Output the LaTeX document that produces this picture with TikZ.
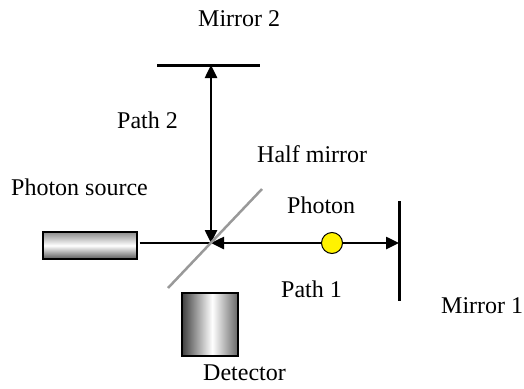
\documentclass[tikz,border=0pt]{standalone}
\usepackage{fontspec}
\setmainfont{Liberation Serif}
\usetikzlibrary{arrows.meta}
\pgfdeclareverticalshading{srcshade}{100bp}{color(0bp)=(black!65); color(25bp)=(black!65); color(50bp)=(white); color(75bp)=(black!45); color(100bp)=(black!45)}
\pgfdeclarehorizontalshading{detshade}{100bp}{color(0bp)=(black!75); color(25bp)=(black!75); color(52bp)=(white); color(75bp)=(black!60); color(100bp)=(black!60)}
\begin{document}
\begin{tikzpicture}[x=1pt,y=-1pt,
  lbl/.style={anchor=base west, inner sep=0pt, font=\fontsize{24}{28}\selectfont},
  mirrorline/.style={line width=3pt, black},
  halfline/.style={line width=2.5pt, black!40},
  beam/.style={line width=2.5pt, black},
  twotip/.style={beam, {Triangle[length=13pt,width=12pt]}-{Triangle[length=13pt,width=12pt]}},
  srcbox/.style={draw=black, line width=1.3pt, shading=srcshade, inner sep=0pt},
  detbox/.style={draw=black, line width=1.3pt, shading=detshade, inner sep=0pt},
  photondot/.style={circle, draw=black, line width=1pt, fill=yellow, inner sep=0pt, minimum size=21pt}
]
\useasboundingbox (0,0) rectangle (524,388);
% coordinates
\coordinate (c) at (211,243);
\coordinate (m2) at (211,65);
\coordinate (m2l) at (157,65);
\coordinate (m2r) at (260,65);
\coordinate (m1) at (399,243);
\coordinate (m1t) at (399,201);
\coordinate (m1b) at (399,301);
\coordinate (hl) at (168,288);
\coordinate (hr) at (262,189);
% devices
\node[srcbox, minimum width=94pt, minimum height=27pt] (src) at (90,245.5) {};
\node[detbox, minimum width=56pt, minimum height=63pt] (det) at (210,324.5) {};
% mirrors
\draw[mirrorline] (m2l) -- (m2r);
\draw[mirrorline] (m1t) -- (m1b);
% beams
\draw[beam] ([xshift=2pt]src.east |- c) -- (c);
\draw[twotip] (c) -- (m2);
\draw[twotip] (c) -- (m1);
\draw[halfline] (hl) -- (hr);
\node[photondot] (ph) at (332,243) {};
% labels
\node[lbl] (t1) at (198,26) {Mirror 2};
\node[lbl] (t2) at (117,128) {Path 2};
\node[lbl] (t3) at (257,162) {Half mirror};
\node[lbl] (t4) at (11,195) {Photon source};
\node[lbl] (t5) at (287,213) {Photon};
\node[lbl] (t6) at (281,297) {Path 1};
\node[lbl] (t7) at (441,313) {Mirror 1};
\node[lbl] (t8) at (203,380) {Detector};
\end{tikzpicture}
\end{document}
